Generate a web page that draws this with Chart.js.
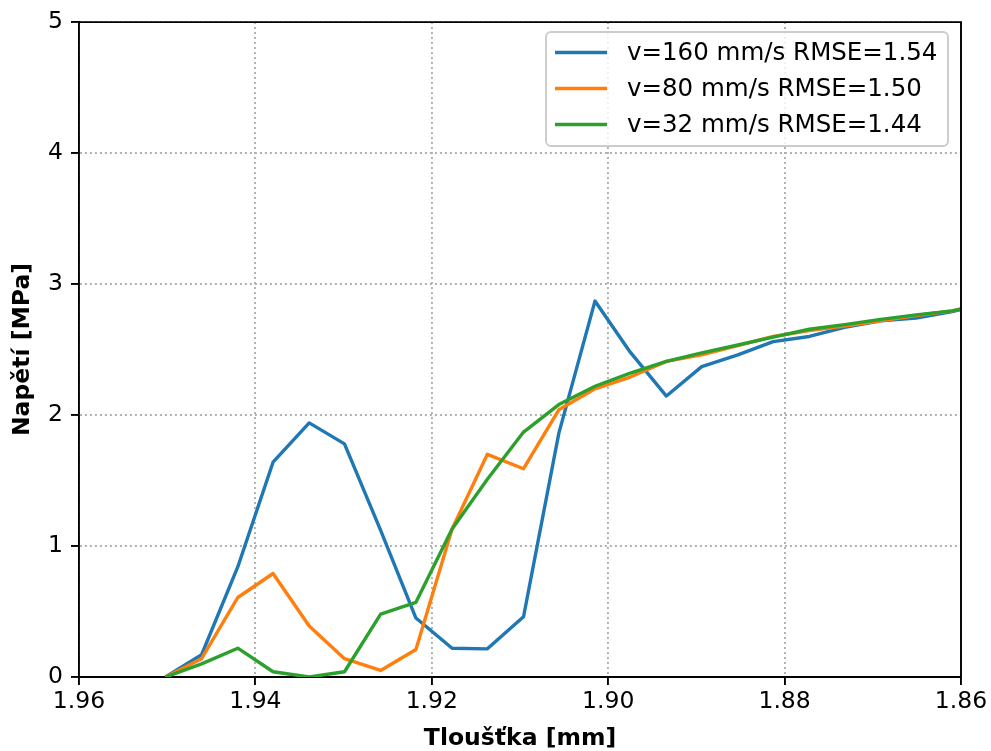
<!DOCTYPE html>
<html>
<head>
<meta charset="utf-8">
<script src="https://cdn.jsdelivr.net/npm/chart.js@4.4.1/dist/chart.umd.min.js"></script>
<style>
html,body{margin:0;padding:0;background:#fff;}
#wrap{width:991px;height:751px;}
</style>
</head>
<body>
<div id="wrap"><canvas id="c" width="991" height="751"></canvas></div>
<script>
// Thickness [mm] (x positions of samples)
const thickness = [1.9502, 1.9461, 1.9420, 1.9380, 1.9339, 1.9299, 1.9258, 1.9218, 1.9177, 1.9137, 1.9096, 1.9056,
                   1.9015, 1.8975, 1.8934, 1.8894, 1.8853, 1.8813, 1.8772, 1.8732, 1.8691, 1.8651, 1.8610, 1.8570];
// Stress [MPa]
const v160 = [0, 0.17, 0.84, 1.64, 1.94, 1.78, 1.12, 0.45, 0.22, 0.215, 0.46, 1.86,
              2.87, 2.48, 2.145, 2.37, 2.46, 2.56, 2.60, 2.67, 2.72, 2.74, 2.79, 2.85];
const v80  = [0, 0.14, 0.607, 0.79, 0.39, 0.14, 0.05, 0.21, 1.13, 1.70, 1.59, 2.04,
              2.20, 2.29, 2.41, 2.46, 2.53, 2.60, 2.645, 2.68, 2.72, 2.76, 2.795, 2.85];
const v32  = [0, 0.10, 0.22, 0.04, 0.0, 0.04, 0.48, 0.57, 1.13, 1.51, 1.87, 2.08,
              2.22, 2.32, 2.41, 2.475, 2.535, 2.595, 2.655, 2.69, 2.73, 2.765, 2.795, 2.85];
const seriesLabels = ['v=160 mm/s RMSE=1.54', 'v=80 mm/s RMSE=1.50', 'v=32 mm/s RMSE=1.44'];
const xTicks = [1.96, 1.94, 1.92, 1.90, 1.88, 1.86];
const yTicks = [0, 1, 2, 3, 4, 5];
const xTitle = 'Tloušťka [mm]';
const yTitle = 'Napětí [MPa]';

const colors = ['#1f77b4', '#ff7f0e', '#2ca02c'];
const FS = 23.5;
const LFS = 24.5;
const FONT = 'DejaVu Sans';
const pts = arr => thickness.map((x, i) => ({x: x, y: arr[i]}));

Chart.defaults.color = '#000';
Chart.defaults.font.family = FONT;

const frameAndLegend = {
  id: 'frameAndLegend',
  afterDraw(chart) {
    const ctx = chart.ctx;
    const a = chart.chartArea;
    ctx.save();
    // top and right spines
    ctx.strokeStyle = '#000';
    ctx.lineWidth = 1.9;
    ctx.beginPath();
    ctx.moveTo(a.left, a.top);
    ctx.lineTo(a.right, a.top);
    ctx.lineTo(a.right, a.bottom);
    ctx.stroke();
    // legend box
    const bx = 546, by = 32, bw = 402, bh = 114, r = 5;
    ctx.beginPath();
    ctx.moveTo(bx + r, by);
    ctx.lineTo(bx + bw - r, by);
    ctx.arcTo(bx + bw, by, bx + bw, by + r, r);
    ctx.lineTo(bx + bw, by + bh - r);
    ctx.arcTo(bx + bw, by + bh, bx + bw - r, by + bh, r);
    ctx.lineTo(bx + r, by + bh);
    ctx.arcTo(bx, by + bh, bx, by + bh - r, r);
    ctx.lineTo(bx, by + r);
    ctx.arcTo(bx, by, bx + r, by, r);
    ctx.closePath();
    ctx.fillStyle = 'rgba(255,255,255,0.8)';
    ctx.fill();
    ctx.strokeStyle = '#cccccc';
    ctx.lineWidth = 1.9;
    ctx.stroke();
    ctx.font = LFS + 'px "' + FONT + '"';
    ctx.textBaseline = 'middle';
    ctx.textAlign = 'left';
    chart.data.datasets.forEach((ds, i) => {
      const y = 52.5 + i * 36;
      ctx.strokeStyle = ds.borderColor;
      ctx.lineWidth = 3.4;
      ctx.beginPath();
      ctx.moveTo(555, y);
      ctx.lineTo(607, y);
      ctx.stroke();
      ctx.fillStyle = '#000';
      ctx.fillText(ds.label, 627, y + 1);
    });
    ctx.restore();
  }
};

new Chart(document.getElementById('c'), {
  type: 'line',
  data: {
    datasets: [
      {label: seriesLabels[0], data: pts(v160), borderColor: colors[0], order: 2},
      {label: seriesLabels[1], data: pts(v80), borderColor: colors[1], order: 1},
      {label: seriesLabels[2], data: pts(v32), borderColor: colors[2], order: 0}
    ].map(d => Object.assign(d, {borderWidth: 3.4, pointRadius: 0, tension: 0, fill: false,
                                  borderJoinStyle: 'round', clip: 0}))
  },
  options: {
    responsive: false,
    animation: false,
    devicePixelRatio: 1,
    layout: {padding: {left: 0, right: 30, top: 20, bottom: 0}},
    plugins: {legend: {display: false}, tooltip: {enabled: false}},
    scales: {
      x: {
        type: 'linear',
        reverse: true,
        min: 1.86, max: 1.96,
        afterFit: s => { s.height = 74; },
        afterBuildTicks: s => { s.ticks = xTicks.map(v => ({value: v})); },
        ticks: {
          font: {size: FS, family: FONT},
          color: '#000',
          padding: 3,
          maxRotation: 0,
          autoSkip: false,
          callback: v => Number(v).toFixed(2)
        },
        grid: {color: '#b0b0b0', lineWidth: 1.9, tickLength: 8, tickColor: '#000', tickWidth: 1.9, tickBorderDash: [], drawOnChartArea: true},
        border: {display: true, color: '#000', width: 1.9, dash: [2, 3]},
        title: {display: true, text: xTitle, font: {size: FS, weight: 'bold', family: FONT}, color: '#000', padding: {top: 0, bottom: -2}}
      },
      y: {
        type: 'linear',
        min: 0, max: 5,
        afterFit: s => { s.width = 79; },
        afterBuildTicks: s => { s.ticks = yTicks.map(v => ({value: v})); },
        ticks: {
          font: {size: FS, family: FONT},
          color: '#000',
          padding: 8,
          callback: v => String(v)
        },
        grid: {color: '#b0b0b0', lineWidth: 1.9, tickLength: 8, tickColor: '#000', tickWidth: 1.9, tickBorderDash: []},
        border: {display: true, color: '#000', width: 1.9, dash: [2, 3]},
        title: {display: true, text: yTitle, font: {size: FS, weight: 'bold', family: FONT}, color: '#000', padding: {top: 9, bottom: 0}}
      }
    }
  },
  plugins: [frameAndLegend]
});
</script>
</body>
</html>
